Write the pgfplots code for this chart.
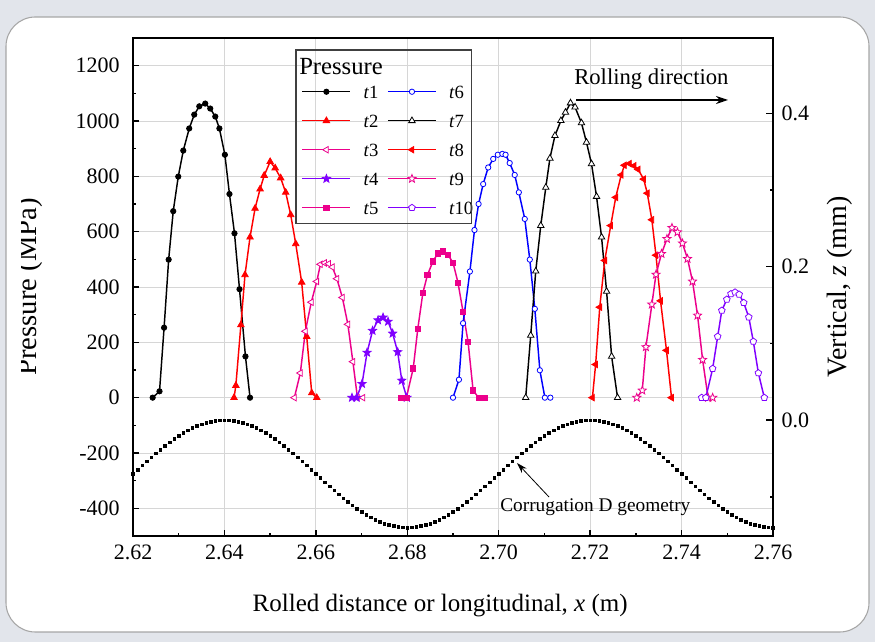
\documentclass[border=0pt]{standalone}
\usepackage{pgfplots}
\pgfplotsset{compat=1.18}
\usepackage{pgfplotstable}
\usepackage{fontspec}
\setmainfont{Liberation Serif}
\usetikzlibrary{arrows.meta}

\definecolor{myviolet}{RGB}{128,0,255}
\definecolor{bgout}{RGB}{226,229,235}

\pgfdeclareplotmark{pstar}{%
  \pgfpathmoveto{\pgfpointpolar{90}{\pgfplotmarksize}}%
  \pgfpathlineto{\pgfpointpolar{126}{0.42\pgfplotmarksize}}%
  \pgfpathlineto{\pgfpointpolar{162}{\pgfplotmarksize}}%
  \pgfpathlineto{\pgfpointpolar{198}{0.42\pgfplotmarksize}}%
  \pgfpathlineto{\pgfpointpolar{234}{\pgfplotmarksize}}%
  \pgfpathlineto{\pgfpointpolar{270}{0.42\pgfplotmarksize}}%
  \pgfpathlineto{\pgfpointpolar{306}{\pgfplotmarksize}}%
  \pgfpathlineto{\pgfpointpolar{342}{0.42\pgfplotmarksize}}%
  \pgfpathlineto{\pgfpointpolar{18}{\pgfplotmarksize}}%
  \pgfpathlineto{\pgfpointpolar{54}{0.42\pgfplotmarksize}}%
  \pgfpathclose
  \pgfusepathqfillstroke
}

\pgfplotsset{
  /pgf/number format/assume math mode=true,
  s1/.style={black, line width=1.1pt, mark=*, mark size=2pt, mark options={solid, line width=0.6pt}},
  s2/.style={red, line width=1.1pt, mark=triangle*, mark size=2.8pt, mark options={solid, line width=0.6pt}},
  s3/.style={magenta, line width=1.1pt, mark=triangle*, mark size=2.8pt, mark options={solid, line width=0.6pt, rotate=90, fill=white}},
  s4/.style={myviolet, line width=1.1pt, mark=pstar, mark size=3.2pt, mark options={solid, line width=0.6pt, fill=myviolet}},
  s5/.style={magenta, line width=1.1pt, mark=square*, mark size=2pt, mark options={solid, line width=0.6pt}},
  s6/.style={blue, line width=1.1pt, mark=*, mark size=2pt, mark options={solid, line width=0.6pt, fill=white}},
  s7/.style={black, line width=1.1pt, mark=triangle*, mark size=2.8pt, mark options={solid, line width=0.6pt, fill=white}},
  s8/.style={red, line width=1.1pt, mark=triangle*, mark size=2.8pt, mark options={solid, line width=0.6pt, rotate=90, fill=red}},
  s9/.style={magenta, line width=1.1pt, mark=pstar, mark size=3.2pt, mark options={solid, line width=0.6pt, fill=white}},
  s10/.style={myviolet, line width=1.1pt, mark=pentagon*, mark size=2.6pt, mark options={solid, line width=0.6pt, fill=white}},
}

\pgfplotstableread{
x y
2.6243 0
2.6258 23
2.6268 253
2.6278 499
2.6288 674
2.6299 799
2.6310 893
2.6323 973
2.6334 1023
2.6345 1053
2.6358 1063
2.6369 1045
2.6380 1016
2.6389 973
2.6401 878
2.6411 736
2.6422 594
2.6433 392
2.6446 149
2.6456 0
}\tA
\pgfplotstableread{
x y
2.6421 0
2.6425 44
2.6436 263
2.6445 444
2.6456 580
2.6467 684
2.6478 754
2.6487 803
2.6500 853
2.6511 830
2.6523 794
2.6534 742
2.6545 661
2.6556 556
2.6569 417
2.6580 221
2.6591 17
2.6602 0
}\tB
\pgfplotstableread{
x y
2.6553 0
2.6566 89
2.6577 240
2.6590 345
2.6602 420
2.6610 482
2.6619 487
2.6628 484
2.6636 472
2.6646 430
2.6658 362
2.6670 265
2.6681 130
2.6691 0
2.6703 0
}\tCC
\pgfplotstableread{
x y
2.6679 0
2.6689 0
2.6701 50
2.6712 163
2.6724 242
2.6736 280
2.6747 290
2.6758 275
2.6768 232
2.6779 165
2.6788 62
2.6799 0
}\tD
\pgfplotstableread{
x y
2.6787 0
2.6798 0
2.6813 106
2.6823 249
2.6834 378
2.6844 443
2.6856 492
2.6867 522
2.6878 529
2.6889 516
2.6900 488
2.6911 415
2.6922 310
2.6933 201
2.6944 26
2.6956 0
2.6969 0
}\tE
\pgfplotstableread{
x y
2.6900 0
2.6913 65
2.6922 269
2.6937 456
2.6947 606
2.6956 700
2.6966 772
2.6977 832
2.6988 863
2.6998 878
2.7008 881
2.7015 878
2.7024 848
2.7035 805
2.7044 742
2.7057 646
2.7068 499
2.7079 321
2.7090 99
2.7101 0
2.7113 0
}\tF
\pgfplotstableread{
x y
2.7059 0
2.7070 225
2.7081 457
2.7092 622
2.7103 760
2.7112 865
2.7123 947
2.7136 1001
2.7146 1031
2.7157 1065
2.7167 1050
2.7181 993
2.7192 923
2.7203 845
2.7214 727
2.7225 580
2.7236 384
2.7247 149
2.7260 0
}\tG
\pgfplotstableread{
x y
2.7205 0
2.7212 120
2.7221 327
2.7232 496
2.7245 622
2.7256 724
2.7268 805
2.7275 840
2.7286 846
2.7296 838
2.7305 825
2.7317 790
2.7325 739
2.7335 643
2.7344 515
2.7354 350
2.7367 171
2.7378 0
}\tH
\pgfplotstableread{
x y
2.7302 0
2.7314 26
2.7322 183
2.7335 337
2.7344 445
2.7356 520
2.7368 574
2.7379 614
2.7391 598
2.7402 558
2.7413 502
2.7424 420
2.7435 297
2.7446 137
2.7458 0
2.7468 0
}\tI
\pgfplotstableread{
x y
2.7444 0
2.7453 0
2.7468 105
2.7479 221
2.7488 315
2.7499 355
2.7508 375
2.7517 381
2.7526 373
2.7536 343
2.7547 291
2.7557 203
2.7568 89
2.7581 0
}\tJ
\pgfplotstableread{
x z
2.620 -0.0700
2.621 -0.0645
2.622 -0.0590
2.623 -0.0537
2.624 -0.0484
2.625 -0.0432
2.626 -0.0382
2.627 -0.0334
2.628 -0.0289
2.629 -0.0245
2.630 -0.0205
2.631 -0.0168
2.632 -0.0134
2.633 -0.0103
2.634 -0.0076
2.635 -0.0053
2.636 -0.0034
2.637 -0.0019
2.638 -0.0009
2.639 -0.0002
2.640 0.0000
2.641 -0.0002
2.642 -0.0009
2.643 -0.0019
2.644 -0.0034
2.645 -0.0053
2.646 -0.0076
2.647 -0.0103
2.648 -0.0134
2.649 -0.0168
2.650 -0.0205
2.651 -0.0245
2.652 -0.0289
2.653 -0.0334
2.654 -0.0382
2.655 -0.0432
2.656 -0.0484
2.657 -0.0537
2.658 -0.0590
2.659 -0.0645
2.660 -0.0700
2.661 -0.0755
2.662 -0.0810
2.663 -0.0863
2.664 -0.0916
2.665 -0.0968
2.666 -0.1018
2.667 -0.1066
2.668 -0.1111
2.669 -0.1155
2.670 -0.1195
2.671 -0.1232
2.672 -0.1266
2.673 -0.1297
2.674 -0.1324
2.675 -0.1347
2.676 -0.1366
2.677 -0.1381
2.678 -0.1391
2.679 -0.1398
2.680 -0.1400
2.681 -0.1398
2.682 -0.1391
2.683 -0.1381
2.684 -0.1366
2.685 -0.1347
2.686 -0.1324
2.687 -0.1297
2.688 -0.1266
2.689 -0.1232
2.690 -0.1195
2.691 -0.1155
2.692 -0.1111
2.693 -0.1066
2.694 -0.1018
2.695 -0.0968
2.696 -0.0916
2.697 -0.0863
2.698 -0.0810
2.699 -0.0755
2.700 -0.0700
2.701 -0.0645
2.702 -0.0590
2.703 -0.0537
2.704 -0.0484
2.705 -0.0432
2.706 -0.0382
2.707 -0.0334
2.708 -0.0289
2.709 -0.0245
2.710 -0.0205
2.711 -0.0168
2.712 -0.0134
2.713 -0.0103
2.714 -0.0076
2.715 -0.0053
2.716 -0.0034
2.717 -0.0019
2.718 -0.0009
2.719 -0.0002
2.720 0.0000
2.721 -0.0002
2.722 -0.0009
2.723 -0.0019
2.724 -0.0034
2.725 -0.0053
2.726 -0.0076
2.727 -0.0103
2.728 -0.0134
2.729 -0.0168
2.730 -0.0205
2.731 -0.0245
2.732 -0.0289
2.733 -0.0334
2.734 -0.0382
2.735 -0.0432
2.736 -0.0484
2.737 -0.0537
2.738 -0.0590
2.739 -0.0645
2.740 -0.0700
2.741 -0.0755
2.742 -0.0810
2.743 -0.0863
2.744 -0.0916
2.745 -0.0968
2.746 -0.1018
2.747 -0.1066
2.748 -0.1111
2.749 -0.1155
2.750 -0.1195
2.751 -0.1232
2.752 -0.1266
2.753 -0.1297
2.754 -0.1324
2.755 -0.1347
2.756 -0.1366
2.757 -0.1381
2.758 -0.1391
2.759 -0.1398
2.760 -0.1400
}\tZ

\begin{document}
\begin{tikzpicture}
\begin{scope}[x=0.75pt,y=0.75pt]
\fill[bgout] (0,0) rectangle (875,642);
\fill[white, draw=gray!70, line width=0.8pt, rounded corners=22pt] (6,10) rectangle (869,625);
\end{scope}

\begin{axis}[
  at={(99.75pt,79.5pt)}, anchor=south west,
  scale only axis, width=480pt, height=373.5pt,
  xmin=2.62, xmax=2.76, ymin=-500, ymax=1300,
  xtick={2.62,2.64,2.66,2.68,2.70,2.72,2.74,2.76},
  ytick={-400,-200,0,200,400,600,800,1000,1200},
  minor x tick num=1, minor y tick num=1,
  xtick pos=bottom, ytick pos=left,
  tick align=inside,
  major tick length=4.5pt, minor tick length=2.5pt,
  every tick/.style={black, line width=1pt},
  axis line style={line width=1.2pt, black},
  grid=major,
  major grid style={line width=0.7pt, draw=black!16},
  scaled x ticks=false, scaled y ticks=false,
  /pgf/number format/assume math mode=true,
  xticklabel style={yshift=-3pt, /pgf/number format/.cd, fixed, fixed zerofill, precision=2},
  yticklabel style={xshift=-6.5pt, /pgf/number format/.cd, fixed, 1000 sep={}},
  tick label style={font=\fontsize{16.5}{19}\selectfont},
  xlabel={Rolled distance or longitudinal, \textit{x} (m)},
  xlabel style={at={(axis description cs:0.48,-0.1526)}, anchor=base, font=\fontsize{18.75}{22}\selectfont},
  ylabel={Pressure (MPa)},
  ylabel style={at={(axis description cs:-0.1515,0.5)}, anchor=base, font=\fontsize{21.5}{24}\selectfont},
  legend columns=2,
  legend cell align=left,
  legend image code/.code={\path (-6.6pt,0pt) (45.3pt,0pt); \draw[mark repeat=2,mark phase=2] plot coordinates {(0pt,0pt) (18pt,0pt) (36pt,0pt)};},
  legend style={at={(axis description cs:0.2498,0.9048)}, anchor=north west, draw=none, fill=none, inner sep=0pt, outer sep=0pt, row sep=12.25pt, column sep=0pt, font=\fontsize{14}{16}\selectfont, nodes={inner sep=0pt, text height=9.5pt, text depth=0pt}},
]
\addplot[s1, forget plot] table {\tA};
\addplot[s2, forget plot] table {\tB};
\addplot[s3, forget plot] table {\tCC};
\addplot[s4, forget plot] table {\tD};
\addplot[s5, forget plot] table {\tE};
\addplot[s6, forget plot] table {\tF};
\addplot[s7, forget plot] table {\tG};
\addplot[s8, forget plot] table {\tH};
\addplot[s9, forget plot] table {\tI};
\addplot[s10, forget plot] table {\tJ};
\addlegendimage{s1}\addlegendentry{\textit{t}1}
\addlegendimage{s6}\addlegendentry{\textit{t}6}
\addlegendimage{s2}\addlegendentry{\textit{t}2}
\addlegendimage{s7}\addlegendentry{\textit{t}7}
\addlegendimage{s3}\addlegendentry{\textit{t}3}
\addlegendimage{s8}\addlegendentry{\textit{t}8}
\addlegendimage{s4}\addlegendentry{\textit{t}4}
\addlegendimage{s9}\addlegendentry{\textit{t}9}
\addlegendimage{s5}\addlegendentry{\textit{t}5}
\addlegendimage{s10}\addlegendentry{\textit{t}10}
\end{axis}

\begin{axis}[
  at={(99.75pt,79.5pt)}, anchor=south west,
  scale only axis, width=480pt, height=373.5pt,
  xmin=2.62, xmax=2.76, ymin=-0.151, ymax=0.498,
  axis x line=none, axis y line*=right,
  ytick={0,0.2,0.4}, minor ytick={-0.1,0.1,0.3},
  tick align=inside,
  major tick length=5pt, minor tick length=2.5pt,
  every tick/.style={black, line width=1pt},
  axis line style={line width=1.2pt, black},
  scaled y ticks=false,
  /pgf/number format/assume math mode=true,
  yticklabel style={xshift=3pt, /pgf/number format/.cd, fixed, fixed zerofill, precision=1},
  tick label style={font=\fontsize{16.5}{19}\selectfont},
  ylabel={Vertical, \textit{z} (mm)},
  ylabel style={at={(axis description cs:1.1141,0.5)}, anchor=base, font=\fontsize{21}{24}\selectfont},
]
\addplot[only marks, mark=square*, mark size=1pt, black] table {\tZ};
\end{axis}

\begin{scope}[x=0.75pt,y=0.75pt]
\draw[line width=0.9pt, black!75] (296,418.7) rectangle (471.7,592);
\node[anchor=base west, inner sep=0pt, font=\fontsize{18.5}{20}\selectfont] at (299,567.7) {Pressure};
\node[anchor=base west, inner sep=0pt, font=\fontsize{17}{19}\selectfont] at (574,557) {Rolling direction};
\draw[-{Stealth[length=9pt,width=6pt]}, line width=0.9pt] (576,542) -- (728,542);
\node[anchor=base west, inner sep=0pt, font=\fontsize{14.5}{16}\selectfont] at (500,130) {Corrugation D geometry};
\draw[-{Stealth[length=8pt,width=5pt]}, line width=0.6pt] (549,145) -- (517,179);
\fill[white] (7.2,240) rectangle (20.7,465);
\end{scope}
\end{tikzpicture}
\end{document}
